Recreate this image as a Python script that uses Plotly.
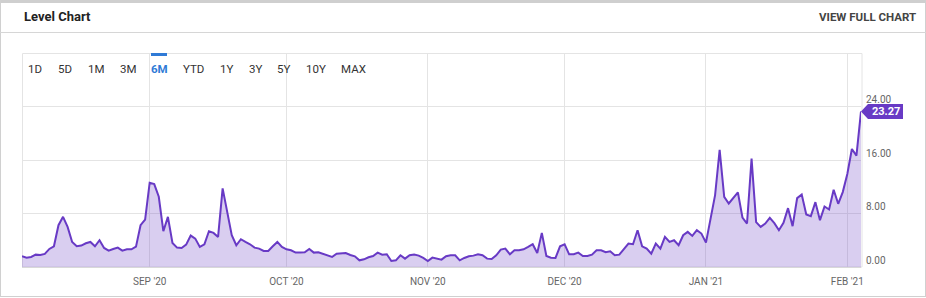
import pandas as pd
import plotly.graph_objects as go

# ---- data ----
start_date = "2020-08-04"
aug_values = [1.6, 1.4, 1.5, 1.85, 1.8, 1.95, 2.7, 3.1, 6.25, 7.5, 6.0, 3.75, 3.1, 3.2,
              3.55, 3.75, 3.1, 4.0, 2.85, 2.45, 2.7, 2.9, 2.45, 2.65, 2.65, 3.05, 6.25, 7.1]
sep_values = [12.6, 12.4, 10.5, 5.35, 7.5, 3.6, 2.9, 2.85, 3.35, 4.7, 4.25, 3.0, 3.4, 5.35,
              5.1, 4.5, 11.75, 8.0, 4.75, 3.25, 4.15, 3.75, 3.4, 2.9, 2.75, 2.4, 2.4, 3.1,
              3.75, 3.0]
oct_values = [2.65, 2.5, 2.15, 2.15, 2.2, 2.7, 2.15, 2.2, 2.0, 1.75, 1.5, 2.0, 2.1, 2.1,
              1.8, 1.6, 1.0, 1.15, 1.45, 1.65, 2.15, 1.85, 1.9, 0.9, 1.0, 1.75, 1.25, 1.75,
              1.85, 1.7, 1.35]
nov_values = [0.9, 1.4, 1.25, 1.1, 1.6, 1.75, 1.75, 1.0, 1.35, 1.6, 1.7, 1.9, 1.75, 1.25,
              1.2, 1.75, 2.6, 2.75, 1.9, 2.5, 2.5, 2.65, 3.0, 3.4, 2.1, 5.1, 1.65, 1.4,
              1.35, 3.1]
dec_values = [3.4, 1.9, 1.9, 2.15, 1.65, 1.65, 1.85, 2.5, 2.5, 2.2, 2.35, 1.75, 1.85, 2.6,
              3.5, 3.4, 5.5, 3.1, 2.75, 2.0, 3.5, 2.75, 4.5, 3.75, 4.0, 3.25, 4.75, 5.25,
              4.65, 5.5, 5.0]
jan_values = [3.65, 7.0, 10.75, 17.5, 10.5, 9.5, 10.25, 11.15, 7.4, 6.5, 16.2, 6.7, 6.0,
              6.5, 7.35, 6.55, 5.5, 6.6, 8.8, 6.1, 10.3, 10.85, 7.85, 7.6, 9.7, 7.0, 9.05,
              8.6, 11.55, 9.45, 11.2]
feb_values = [13.9, 17.65, 16.65, 23.27]

values = aug_values + sep_values + oct_values + nov_values + dec_values + jan_values + feb_values
dates = pd.date_range(start_date, periods=len(values), freq="D")

month_ticks = ["2020-09-01", "2020-10-01", "2020-11-01", "2020-12-01", "2021-01-01", "2021-02-01"]
month_labels = ["SEP '20", "OCT '20", "NOV '20", "DEC '20", "JAN '21", "FEB '21"]
y_ticks = [0, 8, 16, 24]
y_labels = [f"{v:.2f}" for v in y_ticks]
range_buttons = ["1D", "5D", "1M", "3M", "6M", "YTD", "1Y", "3Y", "5Y", "10Y", "MAX"]
active_button = "6M"
title_text = "Level Chart"
link_text = "VIEW FULL CHART"

# ---- layout geometry (pixels) ----
W, H = 926, 298
L, R, T, B = 22, 861, 53, 267
PW, PH = R - L, B - T
Y_MAX = 32


def px(x):
    return (x - L) / PW


def py(y):
    return (B - y) / PH


LINE = "rgb(104,58,197)"
FILL = "rgba(104,58,197,0.25)"
GRID = "#e4e4e4"
FONT = "Roboto"

fig = go.Figure()
fig.add_trace(go.Scatter(
    x=dates, y=values, mode="lines",
    line=dict(color=LINE, width=2), fill="tozeroy", fillcolor=FILL,
    hoverinfo="skip", showlegend=False,
))

shapes = []
# outer widget frame
shapes.append(dict(type="rect", xref="paper", yref="paper", x0=px(0), x1=px(W), y0=py(0), y1=py(3),
                   fillcolor="#cfcfcf", line=dict(width=0), layer="above"))
for x in (0.5, W - 0.5):
    shapes.append(dict(type="line", xref="paper", yref="paper", x0=px(x), x1=px(x), y0=py(0), y1=py(296.5),
                       line=dict(color="#d0d0d0", width=1)))
shapes.append(dict(type="line", xref="paper", yref="paper", x0=px(0), x1=px(W), y0=py(296.5), y1=py(296.5),
                   line=dict(color="#d0d0d0", width=1)))
# header divider
shapes.append(dict(type="line", xref="paper", yref="paper", x0=px(0), x1=px(W), y0=py(32.5), y1=py(32.5),
                   line=dict(color="#d6d6d6", width=1)))
# plot box
shapes.append(dict(type="rect", xref="paper", yref="paper", x0=px(L + 0.5), x1=px(R + 1), y0=0, y1=py(T + 0.5),
                   line=dict(color=GRID, width=1), layer="below"))

# range selector labels
btn_x = [35, 65, 96, 128, 159, 193.5, 226, 255, 283.5, 315.5, 353]
annotations = []
for lab, bx in zip(range_buttons, btn_x):
    active = lab == active_button
    annotations.append(dict(
        x=px(bx), y=py(69), xref="paper", yref="paper", text=lab, showarrow=False,
        xanchor="center", yanchor="middle",
        font=dict(family=FONT, size=11.5, color="#2f7ad6" if active else "#333333",
                  weight="bold" if active else "normal"),
    ))
    if active:
        shapes.append(dict(type="rect", xref="paper", yref="paper", x0=px(bx - 8), x1=px(bx + 8),
                           y0=py(56), y1=py(53), fillcolor="#2f7ad6", line=dict(width=0), layer="above"))

annotations.append(dict(x=px(22), y=py(17), xref="paper", yref="paper", text=title_text, showarrow=False,
                        xanchor="left", yanchor="middle",
                        font=dict(family=FONT, size=13, color="#222222", weight="bold")))
annotations.append(dict(x=px(918), y=py(17), xref="paper", yref="paper", text=link_text, showarrow=False,
                        xanchor="right", yanchor="middle",
                        font=dict(family=FONT, size=11.5, color="#444444", weight="bold")))

# last value flag
last_v = values[-1]
half = 7.5 * Y_MAX / PH
x_tip, x_body, x_end = px(R), px(R + 7), px(R + 42)
shapes.append(dict(
    type="path", xref="paper", yref="y",
    path=(f"M {x_tip},{last_v} L {x_body},{last_v + half} L {x_end},{last_v + half} "
          f"L {x_end},{last_v - half} L {x_body},{last_v - half} Z"),
    fillcolor=LINE, line=dict(width=0), layer="above",
))
annotations.append(dict(x=(x_body + x_end) / 2, y=last_v, xref="paper", yref="y", text=f"{last_v:.2f}",
                        showarrow=False, xanchor="center", yanchor="middle",
                        font=dict(family=FONT, size=11, color="white", weight="bold")))

fig.update_layout(
    width=W, height=H, margin=dict(l=L, r=W - R, t=T, b=H - B, pad=0),
    paper_bgcolor="white", plot_bgcolor="white",
    shapes=shapes, annotations=annotations,
    xaxis=dict(type="date", range=[dates[0], dates[-1]], tickvals=month_ticks, ticktext=month_labels,
               showgrid=True, gridcolor=GRID, gridwidth=1, ticks="", showline=False, zeroline=False,
               ticklabelstandoff=7,
               tickfont=dict(family=FONT, size=10, color="#666666"), fixedrange=True),
    yaxis=dict(side="right", range=[0, Y_MAX], tickvals=y_ticks, ticktext=y_labels,
               showgrid=True, gridcolor=GRID, gridwidth=1, ticks="", showline=False,
               zeroline=True, zerolinecolor="#d8d8d8", zerolinewidth=1,
               ticklabelshift=-7, ticklabelstandoff=4,
               tickfont=dict(family=FONT, size=10, color="#666666"), fixedrange=True),
    hovermode=False,
)

fig.write_html("out.html")
